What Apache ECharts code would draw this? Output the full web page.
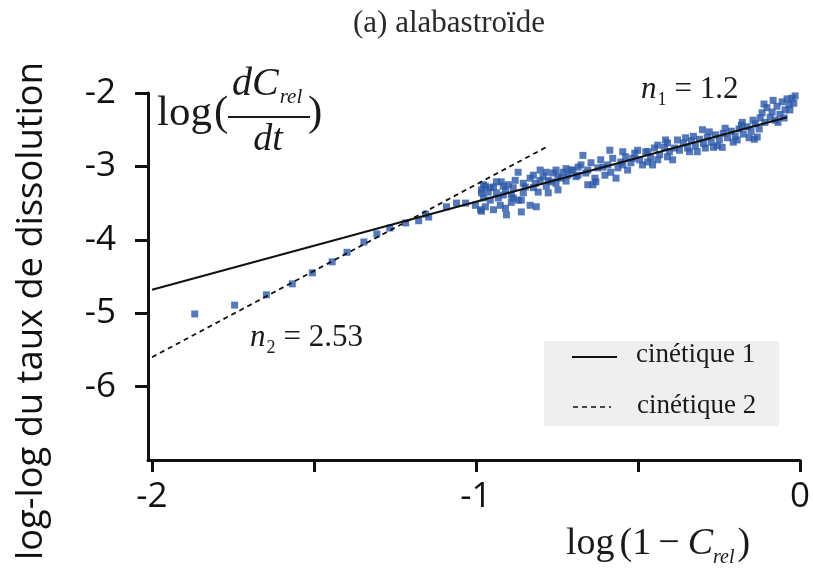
<!DOCTYPE html>
<html>
<head>
<meta charset="utf-8">
<script src="https://cdn.jsdelivr.net/npm/echarts@6/dist/echarts.min.js"></script>
<style>html,body{margin:0;padding:0;background:#fff}#c{width:813px;height:568px}</style>
</head>
<body>
<div id="c"></div>
<script>
// ---- data ----
const logX = [
 -1.868,-1.745,-1.647,-1.567,-1.505,-1.444,-1.398,-1.346,-1.306,-1.266,-1.217,-1.177,-1.155,-1.146,-1.091,-1.060,-1.032,-1.002,-0.983,-0.971,-0.983,
 -0.983,-0.962,-0.946,-0.931,-0.922,-0.909,-0.900,-0.891,-0.879,-0.870,-0.860,-0.848,-0.833,-0.817,-0.808,-0.793,-0.777,-0.762,-0.747,-0.731,-0.716,-0.701,
 -0.986,-0.971,-0.946,-0.925,-0.909,-0.891,-0.870,-0.860,-0.833,-0.814,-0.777,-0.747,-0.906,
 -0.707,-0.691,-0.676,-0.661,-0.645,-0.633,-0.624,-0.615,-0.602,-0.593,-0.578,-0.562,-0.553,-0.538,-0.522,-0.510,-0.495,-0.486,-0.476,-0.461,-0.449,-0.433,-0.418,-0.403,-0.387,-0.639,-0.630,
 -0.670,-0.587,-0.532,-0.455,-0.415,-0.655,-0.568,
 -0.372,-0.360,-0.347,-0.335,-0.323,-0.310,-0.298,-0.286,-0.274,-0.261,-0.249,-0.237,-0.224,-0.212,-0.200,-0.188,-0.175,-0.163,-0.151,-0.138,-0.126,-0.132,
 -0.117,-0.108,-0.102,-0.092,-0.086,-0.077,-0.071,-0.062,-0.055,-0.046,-0.040,-0.034,-0.025,-0.019,
 -0.317,-0.267,-0.194,-0.301,-0.178,-0.353,-0.240,-0.141,
 -0.977,-0.977,-0.956,-0.956,-0.937,-0.937,-0.916,-0.916,-0.885,-0.885,-0.854,-0.854,-0.823,-0.823,-0.802,-0.802,-0.783,-0.783,-0.768,-0.753,-0.753,-0.737,-0.722,-0.722,
 -0.685,-0.685,-0.655,-0.608,-0.584,-0.547,-0.547,-0.516,-0.501,-0.470,-0.470,-0.439,-0.439,-0.409,-0.409,-0.393,-0.378,
 -0.341,-0.329,-0.292,-0.280,-0.255,-0.231,-0.206,-0.181,-0.157,-0.145,-0.123,-0.111,-0.083,-0.068,-0.049,-0.031,-0.015
];
const logRate = [
 -5.01,-4.89,-4.75,-4.60,-4.45,-4.30,-4.17,-4.03,-3.92,-3.84,-3.77,-3.74,-3.65,-3.69,-3.55,-3.50,-3.50,-3.53,-3.61,-3.27,-3.36,
 -3.32,-3.35,-3.28,-3.43,-3.21,-3.32,-3.25,-3.39,-3.19,-3.08,-3.46,-3.28,-3.16,-3.23,-3.35,-3.14,-3.19,-3.09,-3.14,-3.08,-3.12,-3.05,
 -3.59,-3.55,-3.59,-3.53,-3.57,-3.49,-3.46,-3.62,-3.53,-3.55,-3.36,-3.32,-3.66,
 -3.05,-3.14,-2.98,-3.09,-2.95,-3.16,-3.02,-2.91,-3.12,-2.98,-2.89,-3.02,-2.94,-2.87,-2.95,-2.82,-2.91,-2.98,-2.80,-2.89,-2.75,-2.84,-2.74,-2.80,-2.75,-3.25,-3.21,
 -2.85,-2.78,-3.05,-2.98,-2.64,-3.25,-3.16,
 -2.78,-2.68,-2.75,-2.65,-2.72,-2.63,-2.69,-2.60,-2.67,-2.57,-2.64,-2.55,-2.61,-2.52,-2.59,-2.49,-2.56,-2.46,-2.52,-2.42,-2.49,-2.60,
 -2.27,-2.40,-2.20,-2.33,-2.26,-2.37,-2.18,-2.29,-2.12,-2.23,-2.08,-2.16,-2.07,-2.14,
 -2.80,-2.74,-2.64,-2.50,-2.40,-2.61,-2.74,-2.63,
 -3.43,-3.25,-3.46,-3.29,-3.36,-3.21,-3.39,-3.27,-3.29,-3.43,-3.23,-3.36,-3.12,-3.29,-3.19,-3.05,-3.08,-3.27,-3.21,-3.05,-3.23,-3.16,-3.03,-3.20,
 -3.01,-3.12,-3.05,-3.01,-3.08,-2.98,-2.80,-2.89,-2.78,-2.94,-2.80,-2.91,-2.71,-2.87,-2.68,-2.91,-2.64,
 -2.80,-2.59,-2.75,-2.53,-2.72,-2.48,-2.67,-2.44,-2.61,-2.37,-2.34,-2.15,-2.10,-2.40,-2.34,-2.23,-2.04
];
const fit1X = [-2.0, -0.04];   // cinétique 1, n1 = 1.2
const fit1Y = [-4.68, -2.33];
const fit2X = [-2.0, -0.78];   // cinétique 2, n2 = 2.53
const fit2Y = [-5.60, -2.73];
const xTickValues = [-2, -1.5, -1, -0.5, 0];
const xLabelValues = [-2, -1, 0];
const yTickValues = [-6, -5, -4, -3, -2];
const seriesNames = ['cinétique 1', 'cinétique 2'];
const titleText = '(a) alabastroïde';
const yTitle = 'log-log du taux de dissolution';

// ---- layout helpers ----
const SERIF = 'Liberation Serif';
const SANS = 'Open Sans';
const mctx = document.createElement('canvas').getContext('2d');
function tw(text, size, italic, fam) {
  mctx.font = (italic ? 'italic ' : '') + size + 'px "' + (fam || SERIF) + '"';
  return mctx.measureText(text).width;
}
function piece(text, x, baseline, size, italic) {
  return {
    type: 'text', x: x, y: baseline - 0.305 * size, silent: true,
    style: { text: text, fontFamily: SERIF, fontSize: size, fontStyle: italic ? 'italic' : 'normal',
             fill: '#1a1a1a', align: 'left', verticalAlign: 'middle' }
  };
}
function run(list, x0, baseline) {
  const out = []; let x = x0;
  list.forEach(p => {
    x += (p[4] || 0);
    out.push(piece(p[0], x, baseline + (p[3] || 0), p[1], p[2]));
    x += tw(p[0], p[1], p[2]);
  });
  return out;
}

const g = [];
const yTitleSize = Math.min(40, 498 / tw(yTitle, 1, false, SANS));
g.push({ type: 'text', x: 32, y: 311, rotation: Math.PI / 2, silent: true,
  style: { text: yTitle, fontFamily: SANS, fontSize: yTitleSize, fill: '#111', align: 'center', verticalAlign: 'middle' } });
// log(dC_rel/dt)
g.push(...run([['log', 43, false], ['(', 43, false, 0, 2]], 157, 127));
g.push(...run([['dC', 40, true], ['rel', 21, true, 7, 1]], 232, 97));
g.push({ type: 'line', silent: true, shape: { x1: 228, y1: 117, x2: 310, y2: 117 }, style: { stroke: '#1a1a1a', lineWidth: 2 } });
g.push(piece('dt', 268 - tw('dt', 38, true) / 2, 152, 38, true));
g.push(piece(')', 308, 127, 43, false));
// n1, n2
g.push(...run([['n', 31, true], ['1', 18, false, 7, 1], ['= 1.2', 31, false, 0, 8]], 641, 99));
g.push(...run([['n', 31, true], ['2', 18, false, 7, 1], ['= 2.53', 31, false, 0, 8]], 250, 347));
// x-axis name
g.push(...run([['log', 38, false], ['(1', 38, false, 0, 5], ['−', 38, false, 0, 7], ['C', 38, true, 0, 8], ['rel', 20, true, 8, 0], [')', 38, false, 0, 3]], 566, 556));
// legend box
g.push({ type: 'rect', silent: true, shape: { x: 544, y: 341, width: 235, height: 85 }, style: { fill: '#efefef' }, z: 1 });
g.push({ type: 'line', silent: true, shape: { x1: 572, y1: 357, x2: 617, y2: 357 }, style: { stroke: '#111', lineWidth: 2 }, z: 2 });
g.push({ type: 'line', silent: true, shape: { x1: 573, y1: 407, x2: 611, y2: 407 }, style: { stroke: '#111', lineWidth: 1.5, lineDash: [5, 4] }, z: 2 });
g.push(Object.assign(piece(seriesNames[0], 636, 363, 27, false), { z: 2 }));
g.push(Object.assign(piece(seriesNames[1], 637, 414, 27, false), { z: 2 }));

const chart = echarts.init(document.getElementById('c'), null, { renderer: 'canvas' });
const axisCommon = {
  type: 'value',
  axisLine: { show: true, onZero: false, lineStyle: { color: '#111', width: 3 } },
  splitLine: { show: false },
  axisLabel: { fontFamily: SANS, fontSize: 35, color: '#111' }
};
chart.setOption({
  animation: false,
  title: { text: titleText, left: 444, top: 3, textAlign: 'center',
    textStyle: { fontFamily: SERIF, fontSize: 31, fontWeight: 'normal', color: '#2a2a2a' } },
  grid: { left: 148, right: 10, top: 93, bottom: 108, containLabel: false },
  xAxis: Object.assign({}, axisCommon, {
    min: -2.0123, max: 0,
    axisTick: { show: true, customValues: xTickValues, length: 12, lineStyle: { color: '#111', width: 3 } },
    axisLabel: Object.assign({}, axisCommon.axisLabel, { customValues: xLabelValues, margin: 20 })
  }),
  yAxis: Object.assign({}, axisCommon, {
    min: -7, max: -2,
    axisTick: { show: true, customValues: yTickValues, length: 13, lineStyle: { color: '#111', width: 3 } },
    axisLabel: Object.assign({}, axisCommon.axisLabel, { customValues: yTickValues, margin: 32 })
  }),
  graphic: g,
  series: [
    { type: 'scatter', name: 'data', symbol: 'rect', symbolSize: 7, silent: true,
      itemStyle: { color: '#2a58a8' }, data: logX.map((x, i) => [x, logRate[i]]), z: 2 },
    { type: 'line', name: seriesNames[0], symbol: 'none', silent: true, z: 3,
      lineStyle: { color: '#111', width: 2 }, data: fit1X.map((x, i) => [x, fit1Y[i]]) },
    { type: 'line', name: seriesNames[1], symbol: 'none', silent: true, z: 3,
      lineStyle: { color: '#111', width: 1.8, type: [5, 4] }, data: fit2X.map((x, i) => [x, fit2Y[i]]) }
  ]
});
</script>
</body>
</html>
